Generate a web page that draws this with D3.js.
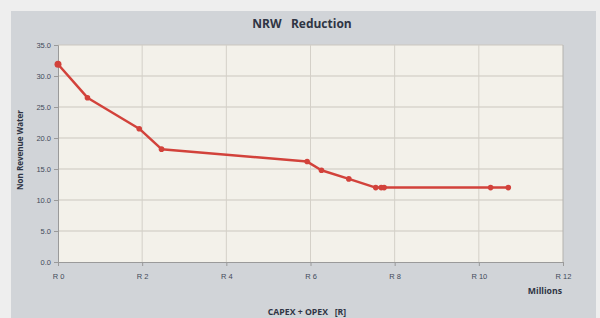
<!DOCTYPE html>
<html>
<head>
<meta charset="utf-8">
<script src="https://cdnjs.cloudflare.com/ajax/libs/d3/7.8.5/d3.min.js"></script>
<style>
  body { margin: 0; background: #eeeeee; }
  svg { display: block; font-family: "Open Sans", "DejaVu Sans", sans-serif; }
</style>
</head>
<body>
<div id="chart"></div>
<script>
// CAPEX + OPEX (R millions) vs Non Revenue Water
var capex = [0, 0.70, 1.93, 2.46, 5.92, 6.26, 6.91, 7.55, 7.68, 7.75, 10.28, 10.70];
var nrw   = [31.9, 26.5, 21.5, 18.2, 16.2, 14.8, 13.4, 12.0, 12.0, 12.0, 12.0, 12.0];
var xTicks = [0, 2, 4, 6, 8, 10, 12];
var yTicks = [0, 5, 10, 15, 20, 25, 30, 35];

var W = 600, H = 318;
var margin = {top: 45, right: 37, bottom: 56, left: 58},
    width = W - margin.left - margin.right,
    height = H - margin.top - margin.bottom;

var root = d3.select("#chart").append("svg")
    .attr("width", W)
    .attr("height", H);

// grey panel
root.append("rect")
    .attr("x", 11).attr("y", 11)
    .attr("width", 585).attr("height", H - 11)
    .attr("fill", "#d1d4d8");

var svg = root.append("g")
    .attr("transform", "translate(" + margin.left + "," + margin.top + ")");

var x = d3.scaleLinear().domain([0, 12]).range([0, width]);
var y = d3.scaleLinear().domain([0, 35]).range([height, 0]);

// plot area
svg.append("rect")
    .attr("width", width).attr("height", height)
    .attr("fill", "#f3f1ea");

// gridlines
svg.selectAll(".hgrid")
  .data(yTicks.slice(1))
  .enter().append("line")
    .attr("x1", 0).attr("x2", width)
    .attr("y1", function(d) { return y(d); })
    .attr("y2", function(d) { return y(d); })
    .attr("stroke", "#cbc7bf").attr("stroke-width", 1);

svg.selectAll(".vgrid")
  .data(xTicks.slice(1))
  .enter().append("line")
    .attr("x1", function(d) { return x(d); })
    .attr("x2", function(d) { return x(d); })
    .attr("y1", 0).attr("y2", height)
    .attr("stroke", function(d) { return d == 12 ? "#b4b2ae" : "#d4d0c8"; })
    .attr("stroke-width", 1);

// axes
var xAxis = svg.append("g")
    .attr("transform", "translate(0," + height + ")")
    .call(d3.axisBottom(x).tickValues(xTicks).tickSize(4)
      .tickFormat(function(d) { return "R " + d; }));

var yAxis = svg.append("g")
    .call(d3.axisLeft(y).tickValues(yTicks).tickSize(4)
      .tickFormat(d3.format(".1f")));

[xAxis, yAxis].forEach(function(a) {
  a.select(".domain").attr("stroke", "#9a9a9a");
  a.selectAll(".tick line").attr("stroke", "#9a9a9a");
  a.selectAll(".tick text")
    .attr("fill", "#434a5a")
    .style("font-size", "7.5px");
});
xAxis.selectAll(".tick text").attr("dy", "1.3em");

// line
var line = d3.line()
    .x(function(d) { return x(d[0]); })
    .y(function(d) { return y(d[1]); });

var pts = d3.zip(capex, nrw);

svg.append("path")
    .datum(pts)
    .attr("d", line)
    .attr("fill", "none")
    .attr("stroke", "#d2423b")
    .attr("stroke-width", 2.5)
    .attr("stroke-linejoin", "round");

svg.selectAll(".pt")
  .data(pts)
  .enter().append("circle")
    .attr("cx", function(d) { return x(d[0]); })
    .attr("cy", function(d) { return y(d[1]); })
    .attr("r", function(d, i) { return i == 0 ? 3.5 : 2.8; })
    .attr("fill", "#d2423b");

// titles
root.append("text")
    .attr("x", 302).attr("y", 28)
    .attr("text-anchor", "middle")
    .attr("fill", "#2f3544")
    .style("font-size", "12px").style("font-weight", "bold")
    .attr("xml:space", "preserve")
    .text("NRW   Reduction");

root.append("text")
    .attr("x", 307).attr("y", 315)
    .attr("text-anchor", "middle")
    .attr("fill", "#2f3544")
    .style("font-size", "8.7px").style("font-weight", "bold")
    .attr("xml:space", "preserve")
    .text("CAPEX + OPEX   [R]");

root.append("text")
    .attr("x", 562).attr("y", 294)
    .attr("text-anchor", "end")
    .attr("fill", "#2f3544")
    .style("font-size", "8.7px").style("font-weight", "bold")
    .text("Millions");

root.append("text")
    .attr("transform", "translate(23,150) rotate(-90)")
    .attr("text-anchor", "middle")
    .attr("fill", "#2f3544")
    .style("font-size", "8px").style("font-weight", "bold")
    .text("Non Revenue Water");
</script>
</body>
</html>
